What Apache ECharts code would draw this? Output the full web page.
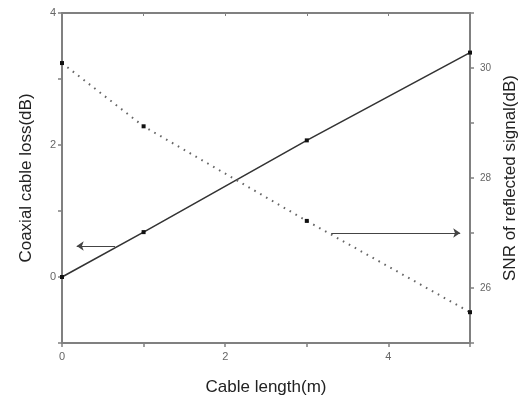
<!DOCTYPE html>
<html>
<head>
<meta charset="utf-8">
<script src="https://cdn.jsdelivr.net/npm/echarts@6/dist/echarts.min.js"></script>
<style>html,body{margin:0;padding:0;background:#fff}#c{width:522px;height:401px}</style>
</head>
<body>
<div id="c"></div>
<script>
const cableLength = [0, 1, 3, 5];
const cableLoss = [0, 0.68, 2.07, 3.40];
const snrLength = [0, 1, 3, 5];
const snrValues = [30.09, 28.94, 27.22, 25.56];
const xTicks = ['0', '2', '4'];
const leftTicks = ['0', '2', '4'];
const rightTicks = ['26', '28', '30'];
const leftArrow = { x1: 0.65, x2: 0.18, y: 0.47 };
const rightArrow = { x1: 3.30, x2: 4.88, y: 27.0 };

const chart = echarts.init(document.getElementById('c'), null, { renderer: 'canvas' });
const axisCol = '#808080';
const fontFam = '"Liberation Sans", Arial, sans-serif';
const pairs = (xs, ys) => xs.map((x, i) => [x, ys[i]]);
const showIf = list => v => list.includes(String(v)) ? String(v) : '';

chart.setOption({
  animation: false,
  backgroundColor: '#fff',
  grid: { left: 62, right: 52, top: 13, bottom: 58, containLabel: false, outerBoundsMode: 'none' },
  xAxis: [{
    type: 'value', min: 0, max: 5, interval: 1, position: 'bottom',
    name: 'Cable length(m)', nameLocation: 'middle', nameGap: 36,
    nameTextStyle: { fontFamily: fontFam, fontSize: 17, color: '#222' },
    axisLine: { show: true, onZero: false, lineStyle: { color: axisCol, width: 2 } },
    axisTick: { show: true, length: 4, lineStyle: { color: axisCol, width: 1.5 } },
    axisLabel: { formatter: showIf(xTicks), fontFamily: fontFam, fontSize: 11, color: '#666', margin: 8 },
    splitLine: { show: false }
  }, {
    type: 'value', min: 0, max: 5, interval: 1, position: 'top',
    axisLine: { show: true, onZero: false, lineStyle: { color: axisCol, width: 2 } },
    axisTick: { show: true, inside: true, length: 3, lineStyle: { color: axisCol, width: 1 } },
    axisLabel: { show: false },
    splitLine: { show: false }
  }],
  yAxis: [{
    type: 'value', min: -1, max: 4, interval: 1, position: 'left',
    name: 'Coaxial cable loss(dB)', nameLocation: 'middle', nameGap: 27, nameRotate: 90,
    nameTextStyle: { fontFamily: fontFam, fontSize: 17, color: '#222' },
    axisLine: { show: true, onZero: false, lineStyle: { color: axisCol, width: 2 } },
    axisTick: { show: true, length: 4, lineStyle: { color: axisCol, width: 1.5 } },
    axisLabel: { formatter: showIf(leftTicks), fontFamily: fontFam, fontSize: 11, color: '#666', margin: 6 },
    splitLine: { show: false }
  }, {
    type: 'value', min: 25, max: 31, interval: 1, position: 'right',
    name: 'SNR of reflected signal(dB)', nameLocation: 'middle', nameGap: 30, nameRotate: 90,
    nameTextStyle: { fontFamily: fontFam, fontSize: 17, color: '#222' },
    axisLine: { show: true, onZero: false, lineStyle: { color: axisCol, width: 2 } },
    axisTick: { show: true, length: 4, lineStyle: { color: axisCol, width: 1.5 } },
    axisLabel: { formatter: showIf(rightTicks), fontFamily: fontFam, fontSize: 10, color: '#666', margin: 10 },
    splitLine: { show: false }
  }],
  series: [{
    type: 'line', xAxisIndex: 0, yAxisIndex: 0,
    data: pairs(cableLength, cableLoss),
    symbol: 'rect', symbolSize: 4, showSymbol: true,
    itemStyle: { color: '#111' },
    lineStyle: { color: '#333', width: 1.6, type: 'solid' },
    markLine: {
      silent: true, symbol: ['none', 'arrow'], symbolSize: 7,
      label: { show: false },
      itemStyle: { color: '#333' },
      lineStyle: { color: '#444', width: 1, type: 'solid' },
      data: [[{ coord: [leftArrow.x1, leftArrow.y] }, { coord: [leftArrow.x2, leftArrow.y] }]]
    }
  }, {
    type: 'line', xAxisIndex: 0, yAxisIndex: 1,
    data: pairs(snrLength, snrValues),
    symbol: 'rect', symbolSize: 4, showSymbol: true,
    itemStyle: { color: '#111' },
    lineStyle: { color: '#666', width: 2, type: [1.6, 5.2] },
    markLine: {
      silent: true, symbol: ['none', 'arrow'], symbolSize: 7,
      label: { show: false },
      itemStyle: { color: '#333' },
      lineStyle: { color: '#444', width: 1, type: 'solid' },
      data: [[{ coord: [rightArrow.x1, rightArrow.y] }, { coord: [rightArrow.x2, rightArrow.y] }]]
    }
  }]
});
</script>
</body>
</html>
